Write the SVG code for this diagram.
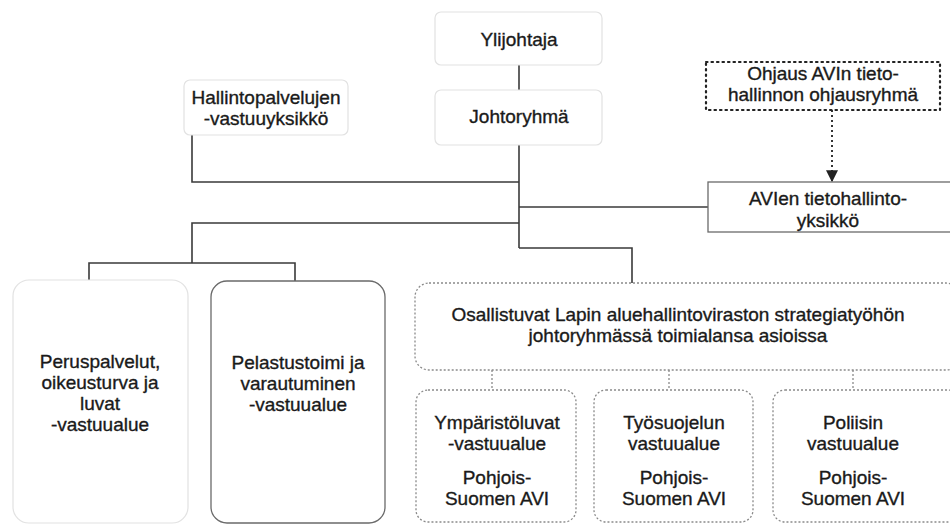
<svg xmlns="http://www.w3.org/2000/svg" width="950" height="525" viewBox="0 0 950 525">
<defs>
<style>
text{font-family:"Liberation Sans",Arial,sans-serif;font-size:19px;fill:#1a1a1a;stroke:#1a1a1a;stroke-width:0.35;text-anchor:middle}
.faint{fill:#fff;stroke:#e2e2e2;stroke-width:1.2}
.solid{fill:#fff;stroke:#6a6a6a;stroke-width:1.3}
.dot{fill:#fff;stroke:#8a8a8a;stroke-width:1.3;stroke-dasharray:2 2}
.dotdark{fill:#fff;stroke:#222;stroke-width:2.2;stroke-dasharray:1.5 4;stroke-linecap:round}
.conn{fill:none;stroke:#3a3a3a;stroke-width:1.6}
.dconn{fill:none;stroke:#8a8a8a;stroke-width:1.3;stroke-dasharray:2 2}
</style>
<marker id="arr" viewBox="0 0 10 10" refX="9" refY="5" markerWidth="6" markerHeight="6" orient="auto">
<path d="M0,0 L10,5 L0,10 z" fill="#222"/>
</marker>
</defs>
<g id="connectors">
<path class="conn" d="M519,65 V90"/>
<path class="conn" d="M519,145 V248"/>
<path class="conn" d="M192,135 V182 H519"/>
<path class="conn" d="M519,207 H708"/>
<path class="conn" d="M519,223 H192 V263"/>
<path class="conn" d="M89,280 V263 H295 V281"/>
<path class="conn" d="M519,248 H632 V283"/>
<path d="M832,110 V181" fill="none" stroke="#333" stroke-width="2" stroke-dasharray="2 3" marker-end="url(#arr)"/>
<path class="dconn" d="M492,370 V390 M669,370 V390 M853,370 V390"/>
</g>
<g id="ylijohtaja">
<rect class="faint" x="435" y="12" width="167" height="53" rx="6"/>
<text x="519" y="46">Ylijohtaja</text>
</g>
<g id="johtoryhma">
<rect class="faint" x="435" y="90" width="167" height="55" rx="6"/>
<text x="519" y="123">Johtoryhmä</text>
</g>
<g id="hallintopalvelut">
<rect class="faint" x="184" y="80" width="164" height="55" rx="6"/>
<text x="266" y="104">Hallintopalvelujen</text>
<text x="266" y="125">-vastuuyksikkö</text>
</g>
<g id="ohjaus">
<rect class="dotdark" x="706" y="62" width="234" height="48"/>
<text x="823" y="80">Ohjaus AVIn tieto-</text>
<text x="823" y="101">hallinnon ohjausryhmä</text>
</g>
<g id="tietohallinto">
<rect class="solid" x="708" y="182" width="244" height="50"/>
<text x="828" y="205">AVIen tietohallinto-</text>
<text x="828" y="227">yksikkö</text>
</g>
<g id="peruspalvelut">
<rect class="faint" x="13" y="280" width="175" height="243" rx="16"/>
<text x="100" y="368">Peruspalvelut,</text>
<text x="100" y="389">oikeusturva ja</text>
<text x="100" y="410">luvat</text>
<text x="100" y="431">-vastuualue</text>
</g>
<g id="pelastustoimi">
<rect class="solid" x="211" y="281" width="174" height="242" rx="16"/>
<text x="298" y="369">Pelastustoimi ja</text>
<text x="298" y="390">varautuminen</text>
<text x="298" y="411">-vastuualue</text>
</g>
<g id="osallistuvat">
<rect class="dot" x="415" y="283" width="545" height="87" rx="14"/>
<text x="678" y="321">Osallistuvat Lapin aluehallintoviraston strategiatyöhön</text>
<text x="678" y="342">johtoryhmässä toimialansa asioissa</text>
</g>
<g id="ymparistoluvat">
<rect class="dot" x="416" y="390" width="160" height="132" rx="12"/>
<text x="497" y="429">Ympäristöluvat</text>
<text x="497" y="450">-vastuualue</text>
<text x="497" y="484">Pohjois-</text>
<text x="497" y="505">Suomen AVI</text>
</g>
<g id="tyosuojelu">
<rect class="dot" x="594" y="390" width="159" height="132" rx="12"/>
<text x="674" y="429">Työsuojelun</text>
<text x="674" y="450">vastuualue</text>
<text x="674" y="484">Pohjois-</text>
<text x="674" y="505">Suomen AVI</text>
</g>
<g id="poliisi">
<rect class="dot" x="773" y="390" width="187" height="132" rx="12"/>
<text x="853" y="429">Poliisin</text>
<text x="853" y="450">vastuualue</text>
<text x="853" y="484">Pohjois-</text>
<text x="853" y="505">Suomen AVI</text>
</g>
</svg>
